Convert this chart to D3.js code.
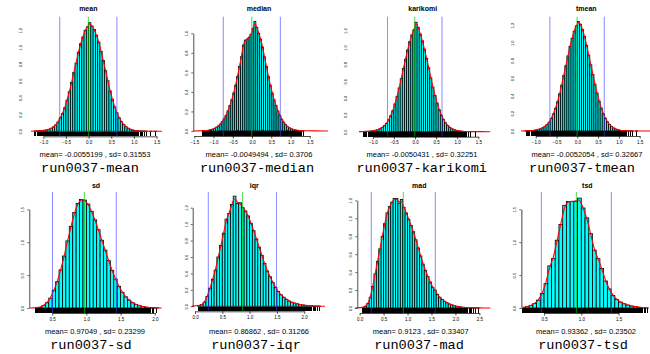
<!DOCTYPE html>
<html><head><meta charset="utf-8">
<script src="https://cdn.jsdelivr.net/npm/d3@7"></script>
<style>body{margin:0;background:#fff}svg{display:block}</style>
</head><body>
<svg id="c" width="650" height="354"></svg>
<script>
// ---------------- data ----------------
const panelNames = ["mean", "median", "karikomi", "tmean", "sd", "iqr", "mad", "tsd"];
const runNames = ["run0037-mean", "run0037-median", "run0037-karikomi", "run0037-tmean",
                  "run0037-sd", "run0037-iqr", "run0037-mad", "run0037-tsd"];
const statMeans = [-0.0055199, -0.0049494, -0.0050431, -0.0052054, 0.97049, 0.86862, 0.9123, 0.93362];
const statSds = [0.31553, 0.3706, 0.32251, 0.32667, 0.23299, 0.31266, 0.33407, 0.23502];
const binWidth = 0.05;
const binStarts = [-1.20, -1.30, -1.25, -1.25, 0.25, 0.05, 0.05, 0.20];

const histMean = [.004,.004,.008,.008,.012,.016,.024,.036,.052,.076,
  .11,.16,.21,.28,.37,.47,.58,.70,.81,.94,
  1.04,1.12,1.20,1.24,1.29,1.25,1.21,1.14,1.06,.95,
  .84,.72,.60,.48,.38,.29,.22,.16,.115,.08,
  .055,.036,.024,.015,.010,.006,.004,.004,.002,.002,0,.002,0,.002];
const histMedian = [.003,.004,.005,.008,.012,.018,.027,.038,.052,.07,
  .095,.125,.16,.205,.26,.32,.39,.47,.56,.66,
  .76,.88,.93,.94,.96,.99,1.05,1.12,1.06,1.00,
  .94,.86,.76,.66,.56,.47,.39,.32,.26,.205,
  .16,.12,.09,.065,.045,.032,.022,.015,.01,.007,.005,.003,.002];
const histKarikomi = [.002,.004,.004,.006,.008,.012,.018,.026,.038,.052,
  .072,.10,.14,.19,.25,.33,.42,.52,.63,.75,
  .86,.97,1.07,1.15,1.21,1.30,1.24,1.16,1.08,.98,
  .87,.76,.64,.53,.43,.34,.26,.195,.145,.105,
  .075,.052,.036,.024,.016,.011,.007,.005,.003,.002,.002,.001,0,.001];
const histTmean = [.002,.003,.004,.006,.009,.013,.019,.027,.038,.053,
  .074,.10,.142,.193,.256,.33,.42,.52,.63,.74,
  .85,.96,1.05,1.13,1.19,1.24,1.21,1.15,1.07,.97,
  .86,.75,.64,.53,.43,.34,.26,.196,.145,.104,
  .073,.05,.034,.022,.014,.009,.006,.004,.003,.002,.001,.001,0,.001];
const histSd = [.005,.01,.04,.08,.15,.27,.40,.58,.79,1.02,
  1.24,1.45,1.59,1.65,1.64,1.58,1.47,1.34,1.19,1.03,
  .88,.72,.57,.44,.33,.24,.17,.12,.08,.055,
  .035,.022,.012,.008,.004,.002];
const histIqr = [.01,.02,.05,.12,.22,.33,.44,.60,.74,.89,
  1.06,1.13,1.24,1.34,1.25,1.26,1.20,1.16,1.10,1.01,
  .92,.82,.72,.62,.52,.43,.36,.29,.23,.18,
  .14,.11,.085,.065,.05,.038,.03,.022,.016,.012,
  .008,.006,.004,.003,.002];
const histMad = [.005,.02,.05,.12,.24,.38,.52,.66,.80,.94,
  1.06,1.13,1.18,1.22,1.22,1.17,1.21,1.12,1.06,.99,
  .92,.85,.76,.67,.58,.49,.42,.35,.29,.23,
  .20,.15,.12,.095,.075,.058,.045,.035,.026,.019,
  .014,.010,.007,.005,.004,.003,.002,.002,.001];
const histTsd = [.01,.02,.04,.07,.12,.22,.37,.64,.75,1.03,
  1.27,1.56,1.62,1.62,1.62,1.67,1.52,1.37,1.13,.88,
  .75,.60,.41,.29,.19,.13,.09,.065,.045,.03,
  .02,.012,.006,.003];
const histData = [histMean, histMedian, histKarikomi, histTmean, histSd, histIqr, histMad, histTsd];

const densLo = [-1.27, -1.53, -1.33, -1.35, 0.175, -0.06, -0.10, 0.19];
const densHi = [1.62, 1.97, 1.78, 1.77, 2.10, 2.38, 2.73, 1.87];

const xTickVals = [
  [-1.0,-0.5,0.0,0.5,1.0,1.5],
  [-1.5,-1.0,-0.5,0.0,0.5,1.0,1.5],
  [-1.0,-0.5,0.0,0.5,1.0,1.5],
  [-1.0,-0.5,0.0,0.5,1.0,1.5],
  [0.5,1.0,1.5,2.0],
  [0.0,0.5,1.0,1.5,2.0],
  [0.0,0.5,1.0,1.5,2.0,2.5],
  [0.5,1.0,1.5]];
const yTickVals = [
  [0,0.2,0.4,0.6,0.8,1.0,1.2],
  [0,0.2,0.4,0.6,0.8,1.0],
  [0,0.2,0.4,0.6,0.8,1.0,1.2],
  [0,0.2,0.4,0.6,0.8,1.0,1.2],
  [0,0.5,1.0,1.5],
  [0,0.2,0.4,0.6,0.8,1.0,1.2],
  [0,0.2,0.4,0.6,0.8,1.0,1.2],
  [0,0.5,1.0,1.5]];

// ---------------- layout (pixels) ----------------
const layout = [
  {x0:88.6, xk:45.3, y0:131.3, yk:84.2, ax:27,    axc:"none", tx:88.3,  sx:95,    nx:90,    row:0},
  {x0:252,  xk:38.5, y0:131,   yk:97.7, ax:193.3, axc:"#000", tx:259,   sx:259,   nx:257,   row:0},
  {x0:415,  xk:42.2, y0:131.7, yk:84.2, ax:352,   axc:"none", tx:422.7, sx:422,   nx:421.7, row:0},
  {x0:577.3,xk:41.6, y0:131,   yk:88.3, ax:519.5, axc:"none", tx:586.3, sx:587,   nx:582,   row:0},
  {x0:18,   xk:68.4, y0:308,   yk:65.8, ax:29.3,  axc:"#000", tx:96,    sx:95,    nx:91,    row:1},
  {x0:195,  xk:54.6, y0:306.3, yk:82.2, ax:192.7, axc:"#000", tx:254.3, sx:259,   nx:256,   row:1},
  {x0:359.6,xk:47.9, y0:308,   yk:89.7, ax:357.3, axc:"#000", tx:419.3, sx:420.7, nx:419,   row:1},
  {x0:506.8,xk:74.5, y0:308,   yk:65.8, ax:521.3, axc:"#888", tx:587.3, sx:586,   nx:583,   row:1}
];
const rowGeom = [
  {plotTop:16.7, titleY:10.7, statY:157.3, nameY:171.5},
  {plotTop:192,  titleY:187.7, statY:333.5, nameY:349.3}
];

const svg = d3.select("#c");
const fmt = d3.format(".1f");

panelNames.forEach((name, i) => {
  const L = layout[i], R = rowGeom[L.row];
  const xt = xTickVals[i], yt = yTickVals[i];
  const x = d3.scaleLinear().domain([xt[0], xt[xt.length-1]])
    .range([L.x0 + xt[0]*L.xk, L.x0 + xt[xt.length-1]*L.xk]);
  const yMax = yt[yt.length-1];
  const y = d3.scaleLinear().domain([0, yMax]).range([L.y0, L.y0 - yMax*L.yk]);
  const axisY = L.y0 + 5;
  const g = svg.append("g");

  const bins = histData[i].map((d, k) => ({x0: binStarts[i] + k*binWidth, x1: binStarts[i] + (k+1)*binWidth, d}));

  // bars
  g.append("g").selectAll("rect").data(bins.filter(b => b.d > 0)).join("rect")
    .attr("x", b => x(b.x0)).attr("width", b => x(b.x1) - x(b.x0))
    .attr("y", b => y(b.d)).attr("height", b => y(0) - y(b.d))
    .attr("fill", "#00ffff").attr("stroke", "#000").attr("stroke-width", 0.8);

  // rug
  const rugVals = [];
  bins.forEach(b => {
    if (b.d <= 0) return;
    const n = Math.min(10, Math.ceil(b.d * 500));
    for (let j = 0; j < n; j++) rugVals.push(b.x0 + (j + 0.5) / n * binWidth);
  });
  g.append("g").selectAll("line").data(rugVals).join("line")
    .attr("x1", v => x(v)).attr("x2", v => x(v))
    .attr("y1", axisY).attr("y2", L.y0 + 0.3)
    .attr("stroke", "#000").attr("stroke-width", 1)
    .attr("shape-rendering", "crispEdges");

  // density curve
  const pts = [[densLo[i], 0]].concat(bins.map(b => [(b.x0 + b.x1) / 2, b.d]), [[densHi[i], 0]]);
  g.append("path").datum(pts)
    .attr("d", d3.line().x(p => x(p[0])).y(p => y(p[1])).curve(d3.curveBasis))
    .attr("fill", "none").attr("stroke", "#ff0000").attr("stroke-width", 1.1);

  // reference lines
  const m = statMeans[i], s = statSds[i];
  [m - 2*s, m + 2*s].forEach(v => {
    g.append("line").attr("x1", x(v)).attr("x2", x(v))
      .attr("y1", R.plotTop).attr("y2", axisY)
      .attr("stroke", "#3a3aff").attr("stroke-width", 0.8).attr("opacity", 0.75);
  });
  g.append("line").attr("x1", x(m)).attr("x2", x(m))
    .attr("y1", R.plotTop).attr("y2", axisY)
    .attr("stroke", "#00c800").attr("stroke-width", 0.8).attr("opacity", 0.85);

  // x axis
  const gx = g.append("g").attr("transform", `translate(0,${axisY})`)
    .call(d3.axisBottom(x).tickValues(xt).tickFormat(fmt).tickSize(2.5).tickSizeOuter(0).tickPadding(2));
  gx.select(".domain").attr("stroke", "#000").attr("stroke-width", 0.7);
  gx.selectAll(".tick line").attr("stroke", "#000").attr("stroke-width", 0.7);
  gx.selectAll("text").attr("font-family", "Liberation Sans, Arial, sans-serif").attr("font-size", 4.5).attr("fill", "#000");

  // y axis
  const gy = g.append("g").attr("transform", `translate(${L.ax},0)`)
    .call(d3.axisLeft(y).tickValues(yt).tickFormat(fmt).tickSize(2).tickSizeOuter(0));
  gy.select(".domain").attr("stroke", L.axc).attr("stroke-width", L.axc === "#888" ? 1.6 : 0.7);
  gy.selectAll(".tick line").attr("stroke", L.axc === "none" ? "none" : "#000").attr("stroke-width", 0.6);
  gy.selectAll("text")
    .attr("transform", "rotate(-90)").attr("x", 0).attr("y", -5.2).attr("dy", 0)
    .attr("text-anchor", "middle")
    .attr("font-family", "Liberation Sans, Arial, sans-serif").attr("font-size", 4).attr("fill", "#000");

  // title
  svg.append("text").attr("x", L.tx).attr("y", R.titleY).attr("text-anchor", "middle")
    .attr("font-family", "Liberation Sans, Arial, sans-serif").attr("font-weight", "bold")
    .attr("font-size", 7).attr("fill", "#000").text(name);
  // stats line
  svg.append("text").attr("x", L.sx).attr("y", R.statY).attr("text-anchor", "middle")
    .attr("font-family", "Liberation Sans, Arial, sans-serif").attr("font-size", 7.5)
    .attr("fill", "#000").text("mean= " + m + " , sd= " + s);
  // run name
  svg.append("text").attr("x", L.nx).attr("y", R.nameY).attr("text-anchor", "middle")
    .attr("font-family", "Liberation Mono, Courier New, monospace").attr("font-size", 13.6)
    .attr("fill", "#000").text(runNames[i]);
});
</script>
</body></html>
